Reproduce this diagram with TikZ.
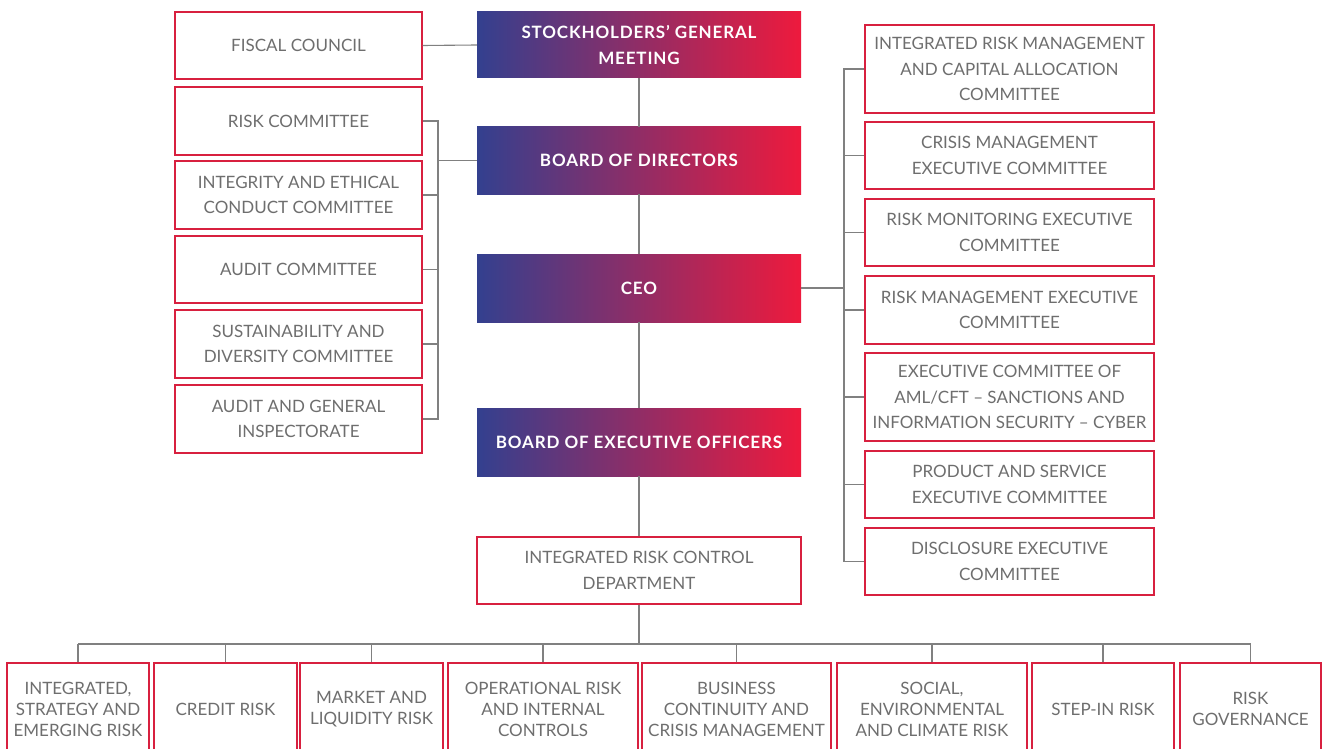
\documentclass[tikz,border=0pt]{standalone}
\usepackage{fontspec}
\setmainfont{Lato}
\newfontfamily\hdrfont[LetterSpace=5]{Lato Bold}
\definecolor{boxred}{HTML}{D8203F}
\definecolor{txtgray}{HTML}{6E6E6E}
\definecolor{linegray}{HTML}{808080}
\definecolor{hblue}{HTML}{33408F}
\definecolor{hred}{HTML}{EE1A3D}
\tikzset{
  box/.style={draw=boxred, line width=1.2pt, fill=white, align=center, text=txtgray,
    font=\fontsize{17}{25.5}\selectfont, inner sep=0pt},
  bbox/.style={box, font=\fontsize{17}{21}\selectfont},
  lbox/.style={box, minimum width=247pt},
  rbox/.style={box, minimum width=289pt},
  hdr/.style={left color=hblue, right color=hred, draw=none, text=white, align=center,
    font=\hdrfont\fontsize{17}{26.5}\selectfont, minimum width=324pt, inner sep=0pt},
  conn/.style={draw=linegray, line width=1.1pt},
}
\begin{document}
\begin{tikzpicture}[x=1pt,y=-1pt]
\useasboundingbox (0,0) rectangle (1325,749);
% center column
\node[hdr, minimum height=66pt] (sgm) at (639,45) {STOCKHOLDERS’ GENERAL\\MEETING};
\node[hdr, minimum height=67pt] (bod) at (639,160.5) {BOARD OF DIRECTORS};
\node[hdr, minimum height=68pt] (ceo) at (639,288) {CEO};
\node[hdr, minimum height=68pt] (beo) at (639,442) {BOARD OF EXECUTIVE OFFICERS};
\node[box, minimum width=324pt, minimum height=67pt] (irc) at (639,570.5) {INTEGRATED RISK CONTROL\\DEPARTMENT};
% left column
\node[lbox, minimum height=67pt] (fc) at (298.5,45.5) {FISCAL COUNCIL};
\node[lbox, minimum height=68pt] (rc) at (298.5,121) {RISK COMMITTEE};
\node[lbox, minimum height=68pt] (ie) at (298.5,195) {INTEGRITY AND ETHICAL\\CONDUCT COMMITTEE};
\node[lbox, minimum height=67pt] (ac) at (298.5,269.5) {AUDIT COMMITTEE};
\node[lbox, minimum height=68pt] (sd) at (298.5,344) {SUSTAINABILITY AND\\DIVERSITY COMMITTEE};
\node[lbox, minimum height=68pt] (ag) at (298.5,419) {AUDIT AND GENERAL\\INSPECTORATE};
% right column
\node[rbox, minimum height=88pt] (irm) at (1009.5,69) {INTEGRATED RISK MANAGEMENT\\AND CAPITAL ALLOCATION\\COMMITTEE};
\node[rbox, minimum height=67pt] (cm) at (1009.5,155.5) {CRISIS MANAGEMENT\\EXECUTIVE COMMITTEE};
\node[rbox, minimum height=67pt] (rmo) at (1009.5,232.5) {RISK MONITORING EXECUTIVE\\COMMITTEE};
\node[rbox, minimum height=68pt] (rma) at (1009.5,310) {RISK MANAGEMENT EXECUTIVE\\COMMITTEE};
\node[rbox, minimum height=88pt] (aml) at (1009.5,397) {EXECUTIVE COMMITTEE OF\\AML/CFT – SANCTIONS AND\\INFORMATION SECURITY – CYBER};
\node[rbox, minimum height=67pt] (ps) at (1009.5,484.5) {PRODUCT AND SERVICE\\EXECUTIVE COMMITTEE};
\node[rbox, minimum height=67pt] (dc) at (1009.5,561.5) {DISCLOSURE EXECUTIVE\\COMMITTEE};
% bottom row
\node[bbox, minimum width=142pt, minimum height=92pt] (b1) at (78,709) {INTEGRATED,\\STRATEGY AND\\EMERGING RISK};
\node[bbox, minimum width=143pt, minimum height=92pt] (b2) at (225.5,709) {CREDIT RISK};
\node[bbox, minimum width=143pt, minimum height=92pt] (b3) at (371.5,709) {MARKET AND\\LIQUIDITY RISK};
\node[bbox, minimum width=190pt, minimum height=92pt] (b4) at (543,709) {OPERATIONAL RISK\\AND INTERNAL\\CONTROLS};
\node[bbox, minimum width=189pt, minimum height=92pt] (b5) at (736.5,709) {BUSINESS\\CONTINUITY AND\\CRISIS MANAGEMENT};
\node[bbox, minimum width=190pt, minimum height=92pt] (b6) at (932,709) {SOCIAL,\\ENVIRONMENTAL\\AND CLIMATE RISK};
\node[bbox, minimum width=142pt, minimum height=92pt] (b7) at (1103,709) {STEP-IN RISK};
\node[bbox, minimum width=141pt, minimum height=92pt] (b8) at (1250.5,709) {RISK\\GOVERNANCE};
% connectors
\coordinate (lbx) at (438,0);
\coordinate (rbx) at (844,0);
\coordinate (busy) at (0,644);
\draw[conn] (fc.east) -- (sgm.west);
\draw[conn] (sgm.south) -- (bod.north);
\draw[conn] (bod.south) -- (ceo.north);
\draw[conn] (ceo.south) -- (beo.north);
\draw[conn] (beo.south) -- (irc.north);
\draw[conn] (rc.east) -- (rc.east -| lbx) -- (ag.east -| lbx) -- (ag.east);
\foreach \n in {ie,ac,sd} \draw[conn] (\n.east) -- (\n.east -| lbx);
\draw[conn] (bod.west) -- (bod.west -| lbx);
\draw[conn] (irm.west) -- (irm.west -| rbx) -- (dc.west -| rbx) -- (dc.west);
\foreach \n in {cm,rmo,rma,aml,ps} \draw[conn] (\n.west) -- (\n.west -| rbx);
\draw[conn] (ceo.east) -- (ceo.east -| rbx);
\draw[conn] (irc.south) -- (irc.south |- busy);
\draw[conn] (b1.north |- busy) -- (b8.north |- busy);
\foreach \n in {b1,b2,b3,b4,b5,b6,b7,b8} \draw[conn] (\n.north) -- (\n.north |- busy);
\end{tikzpicture}
\end{document}
